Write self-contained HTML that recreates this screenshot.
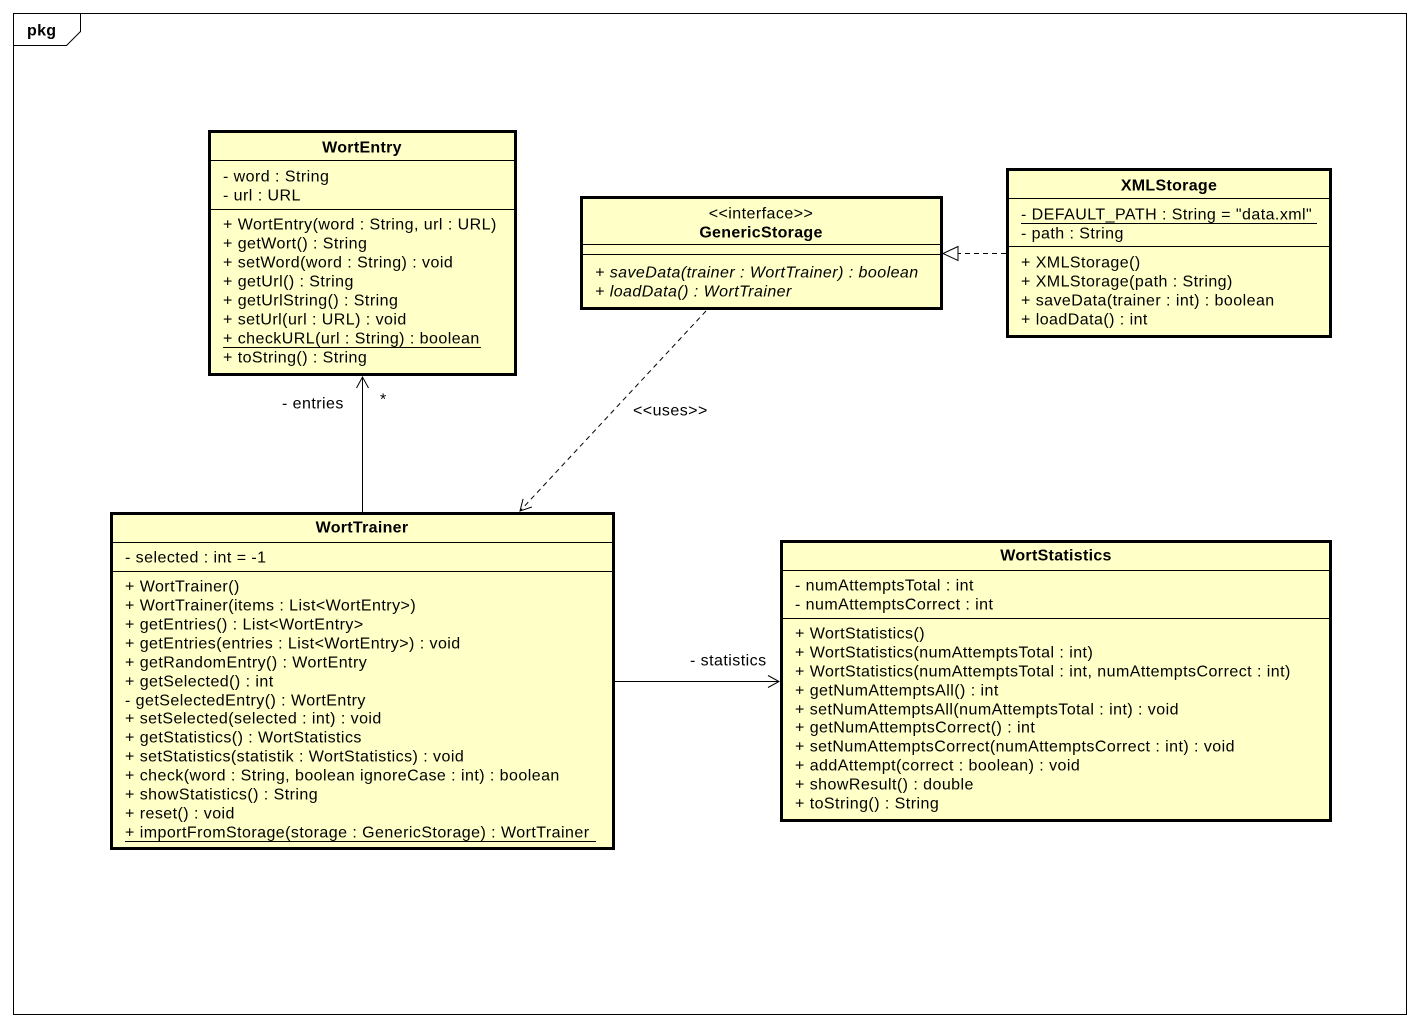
<!DOCTYPE html>
<html><head><meta charset="utf-8"><style>
html,body{margin:0;padding:0;background:#fff;}
svg{display:block;}
text{font-family:"Liberation Sans",sans-serif;font-size:16px;letter-spacing:0.45px;fill:#000;dominant-baseline:central;}
.b{font-weight:bold;letter-spacing:0.3px;}
.i{font-style:italic;}
.box{fill:#ffffc8;stroke:#000;stroke-width:3;}
.sep{stroke:#000;stroke-width:1;}
</style></head><body>
<svg width="1420" height="1028" viewBox="0 0 1420 1028">
<defs>
<marker id="open" markerWidth="14" markerHeight="14" refX="12" refY="7" orient="auto" markerUnits="userSpaceOnUse">
<path d="M1,1 L12,7 L1,13" fill="none" stroke="#000" stroke-width="1"/>
</marker>
</defs>
<rect x="13.5" y="13.5" width="1393" height="1001" fill="none" stroke="#000" stroke-width="1"/>
<path d="M13.5,45.5 L66.5,45.5 L80.5,31.5 L80.5,13.5" fill="none" stroke="#000" stroke-width="1"/>
<text x="27" y="31" class="b">pkg</text>

<!-- WortEntry -->
<rect class="box" x="209.5" y="131.5" width="306" height="243"/>
<line class="sep" x1="210" y1="160.5" x2="515" y2="160.5"/>
<line class="sep" x1="210" y1="209.5" x2="515" y2="209.5"/>
<text x="362" y="148" class="b" text-anchor="middle">WortEntry</text>
<text x="223" y="177">- word : String</text>
<text x="223" y="196">- url : URL</text>
<text x="223" y="225">+ WortEntry(word : String, url : URL)</text>
<text x="223" y="244">+ getWort() : String</text>
<text x="223" y="263">+ setWord(word : String) : void</text>
<text x="223" y="282">+ getUrl() : String</text>
<text x="223" y="301">+ getUrlString() : String</text>
<text x="223" y="320">+ setUrl(url : URL) : void</text>
<text x="223" y="339">+ checkURL(url : String) : boolean</text>
<line class="sep" x1="223" y1="347.5" x2="481" y2="347.5"/>
<text x="223" y="358">+ toString() : String</text>

<!-- GenericStorage -->
<rect class="box" x="581.5" y="197.5" width="360" height="111"/>
<line class="sep" x1="582" y1="244.5" x2="941" y2="244.5"/>
<line class="sep" x1="582" y1="254.5" x2="941" y2="254.5"/>
<text x="761" y="214" text-anchor="middle">&lt;&lt;interface&gt;&gt;</text>
<text x="761" y="233" class="b" text-anchor="middle">GenericStorage</text>
<text x="595" y="273" class="i">+ saveData(trainer : WortTrainer) : boolean</text>
<text x="595" y="292" class="i">+ loadData() : WortTrainer</text>

<!-- XMLStorage -->
<rect class="box" x="1007.5" y="169.5" width="323" height="167"/>
<line class="sep" x1="1008" y1="198.5" x2="1330" y2="198.5"/>
<line class="sep" x1="1008" y1="246.5" x2="1330" y2="246.5"/>
<text x="1169" y="186" class="b" text-anchor="middle">XMLStorage</text>
<text x="1021" y="215">- DEFAULT_PATH : String = "data.xml"</text>
<line class="sep" x1="1021" y1="223.5" x2="1317" y2="223.5"/>
<text x="1021" y="234">- path : String</text>
<text x="1021" y="263">+ XMLStorage()</text>
<text x="1021" y="282">+ XMLStorage(path : String)</text>
<text x="1021" y="301">+ saveData(trainer : int) : boolean</text>
<text x="1021" y="320">+ loadData() : int</text>

<!-- WortTrainer -->
<rect class="box" x="111.5" y="513.5" width="502" height="335"/>
<line class="sep" x1="112" y1="542.5" x2="613" y2="542.5"/>
<line class="sep" x1="112" y1="571.5" x2="613" y2="571.5"/>
<text x="362" y="528" class="b" text-anchor="middle">WortTrainer</text>
<text x="125" y="558">- selected : int = -1</text>
<text x="125" y="587">+ WortTrainer()</text>
<text x="125" y="606">+ WortTrainer(items : List&lt;WortEntry&gt;)</text>
<text x="125" y="625">+ getEntries() : List&lt;WortEntry&gt;</text>
<text x="125" y="644">+ getEntries(entries : List&lt;WortEntry&gt;) : void</text>
<text x="125" y="663">+ getRandomEntry() : WortEntry</text>
<text x="125" y="682">+ getSelected() : int</text>
<text x="125" y="701">- getSelectedEntry() : WortEntry</text>
<text x="125" y="719">+ setSelected(selected : int) : void</text>
<text x="125" y="738">+ getStatistics() : WortStatistics</text>
<text x="125" y="757">+ setStatistics(statistik : WortStatistics) : void</text>
<text x="125" y="776">+ check(word : String, boolean ignoreCase : int) : boolean</text>
<text x="125" y="795">+ showStatistics() : String</text>
<text x="125" y="814">+ reset() : void</text>
<text x="125" y="833">+ importFromStorage(storage : GenericStorage) : WortTrainer</text>
<line class="sep" x1="125" y1="841.5" x2="596" y2="841.5"/>

<!-- WortStatistics -->
<rect class="box" x="781.5" y="541.5" width="549" height="279"/>
<line class="sep" x1="782" y1="570.5" x2="1330" y2="570.5"/>
<line class="sep" x1="782" y1="618.5" x2="1330" y2="618.5"/>
<text x="1056" y="556" class="b" text-anchor="middle">WortStatistics</text>
<text x="795" y="586">- numAttemptsTotal : int</text>
<text x="795" y="605">- numAttemptsCorrect : int</text>
<text x="795" y="634">+ WortStatistics()</text>
<text x="795" y="653">+ WortStatistics(numAttemptsTotal : int)</text>
<text x="795" y="672">+ WortStatistics(numAttemptsTotal : int, numAttemptsCorrect : int)</text>
<text x="795" y="691">+ getNumAttemptsAll() : int</text>
<text x="795" y="710">+ setNumAttemptsAll(numAttemptsTotal : int) : void</text>
<text x="795" y="728">+ getNumAttemptsCorrect() : int</text>
<text x="795" y="747">+ setNumAttemptsCorrect(numAttemptsCorrect : int) : void</text>
<text x="795" y="766">+ addAttempt(correct : boolean) : void</text>
<text x="795" y="785">+ showResult() : double</text>
<text x="795" y="804">+ toString() : String</text>

<!-- connectors -->
<line x1="362.5" y1="512" x2="362.5" y2="377" stroke="#000" stroke-width="1" marker-end="url(#open)"/>
<text x="282" y="404">- entries</text>
<text x="380" y="400">*</text>

<line x1="706" y1="311" x2="520" y2="511" stroke="#000" stroke-width="1" stroke-dasharray="5,4" marker-end="url(#open)"/>
<text x="633" y="411">&lt;&lt;uses&gt;&gt;</text>

<line x1="1006" y1="253.5" x2="958" y2="253.5" stroke="#000" stroke-width="1" stroke-dasharray="5,4"/>
<path d="M958,246.5 L943,253.5 L958,260.5 Z" fill="#fff" stroke="#000" stroke-width="1"/>

<line x1="614" y1="681.5" x2="779" y2="681.5" stroke="#000" stroke-width="1" marker-end="url(#open)"/>
<text x="690" y="661">- statistics</text>
</svg>
</body></html>
